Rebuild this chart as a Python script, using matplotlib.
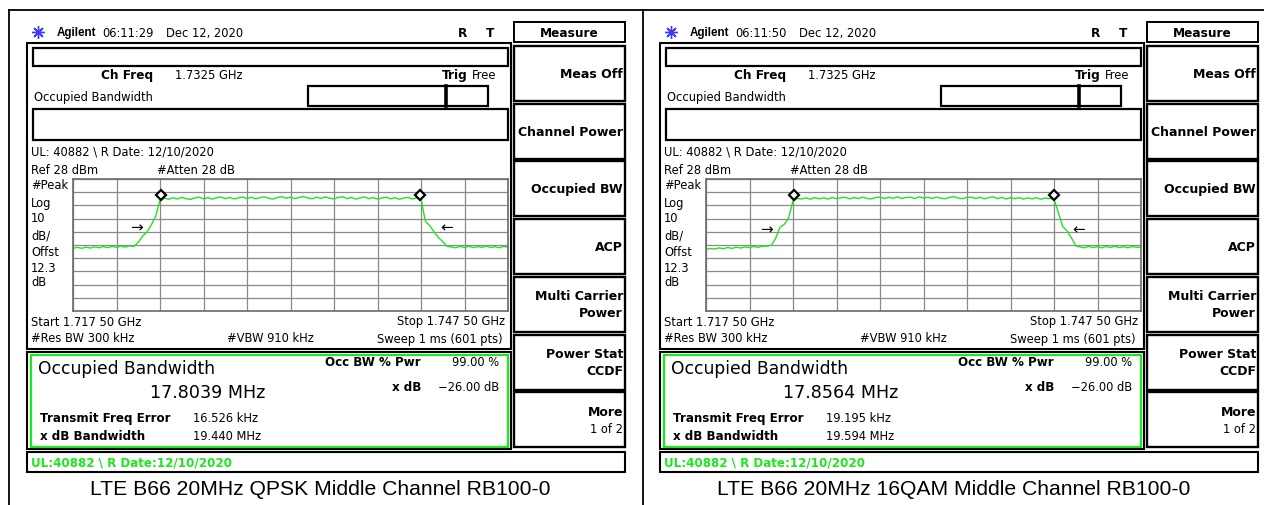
import matplotlib.pyplot as plt
import numpy as np
from matplotlib.patches import Rectangle

W, H = 1264, 506

# analyzer sweep settings
f_start, f_stop = 1717.5, 1747.5
ref_level = 28
db_div = 10

captions = ['LTE B66 20MHz QPSK Middle Channel RB100-0',
            'LTE B66 20MHz 16QAM Middle Channel RB100-0']
clock = ['06:11:29', '06:11:50']
occ_bw = ['17.8039 MHz', '17.8564 MHz']
freq_err = ['16.526 kHz', '19.195 kHz']
xdb_bw = ['19.440 MHz', '19.594 MHz']
softkeys = [['Meas Off'], ['Channel Power'], ['Occupied BW'], ['ACP'],
            ['Multi Carrier', 'Power'], ['Power Stat', 'CCDF'], ['More', '1 of 2']]

# trace levels (dBm), one sample every 0.3 MHz
qpsk_level = [-24.5, -23.8, -24.5, -23.6, -24.3, -23.4, -24.1, -23.2, -24.0, -23.0,
              -23.8, -22.8, -23.6, -22.6, -23.1,
              -20.0, -15.3, -12.2, -6.8, -0.3, 12.0, 13.5,
              12.7, 13.8, 12.9, 14.0, 13.1, 12.5, 13.7, 14.2, 13.0, 13.9,
              12.8, 13.8, 14.3, 13.1, 14.0, 12.9, 13.6, 14.4, 13.2, 14.1,
              13.0, 13.9, 14.5, 13.4, 12.8, 14.0, 14.6, 13.5, 14.2, 13.1,
              14.1, 14.7, 13.6, 13.0, 14.2, 13.3, 14.4, 13.5, 12.9, 14.1,
              14.5, 13.2, 14.0, 12.8, 13.7, 14.4, 13.1, 13.9, 12.8, 13.6,
              14.2, 13.0, 13.8, 12.7, 13.5, 14.0, 12.9, 13.6,
              13.0, -4.0, -7.3, -12.0, -16.3, -19.5, -23.0,
              -23.5, -24.1, -23.0, -23.9, -22.9, -24.0, -23.2, -23.8, -22.8, -23.9,
              -23.3, -24.1, -23.0, -23.8]
qam16_level = [-25.2, -24.6, -25.0, -24.2, -24.8, -23.9, -24.6, -23.6, -24.3, -23.4,
               -24.0, -23.1, -23.8, -22.9, -22.9,
               -22.3, -17.0, -8.6, -6.3, -1.5, 11.5, 13.2,
               12.9, 13.7, 12.7, 13.9, 13.0, 13.8, 12.8, 14.0, 13.1, 13.8,
               14.1, 13.0, 13.9, 13.2, 14.2, 13.3, 12.9, 14.0, 14.3, 13.2,
               14.1, 13.4, 14.4, 13.3, 14.0, 14.2, 13.2, 14.5, 13.5, 14.1,
               13.3, 14.3, 13.4, 13.0, 14.1, 14.6, 13.5, 13.1, 14.0, 14.2,
               13.3, 14.1, 13.0, 13.9, 14.4, 13.2, 14.0, 12.9, 13.8, 13.1,
               13.9, 12.8, 13.7, 13.0, 13.8, 12.7, 13.6, 13.2,
               12.8, 2.5, -8.0, -11.4, -16.5, -22.6,
               -23.5, -24.1, -23.0, -24.0, -23.2, -24.2, -23.1, -23.9, -22.9, -24.0,
               -23.3, -24.1, -23.1, -23.8, -23.4]
traces = [qpsk_level, qam16_level]

# occupied bandwidth markers and x dB arrows
marker_f = [[1723.60, 1741.45], [1723.57, 1741.52]]
marker_level = 16.0
arrow_f = [[1721.9, 1743.3], [1721.65, 1743.2]]
arrow_level = [-8.4, -9.9]

GREEN = '#1ee61e'
FONT = 'DejaVu Sans'

fig = plt.figure(figsize=(W / 100, H / 100), dpi=100)
bg = fig.add_axes([0, 0, 1, 1])
bg.set_xlim(0, W)
bg.set_ylim(H, 0)
bg.axis('off')


def box(x0, y0, x1, y1, lw=1.5, color='black'):
    bg.add_patch(Rectangle((x0, y0), x1 - x0, y1 - y0, fill=False, lw=lw, ec=color))


def txt(x, y, s, size=8.3, bold=False, ha='left', color='black', family=FONT):
    bg.text(x, y, s, fontsize=size, fontweight='bold' if bold else 'normal',
            ha=ha, va='center', color=color, family=family)


# outer frame
bg.plot([9, W], [11, 11], color='black', lw=1.3)
bg.plot([9, 9], [11, H], color='black', lw=1.3)
bg.plot([643, 643], [11, H], color='black', lw=1.3)


def panel(k, dx):
    # header line
    bg.plot(38 + dx, 33, marker=(8, 2, 0), ms=9, color='#3a3aff', mew=1)
    txt(57 + dx, 33, 'Agilent', size=8.4, bold=True, family='Liberation Sans')
    txt(102 + dx, 33, clock[k])
    txt(166 + dx, 33, 'Dec 12, 2020')
    txt(463 + dx, 33, 'R', size=8.7, bold=True, ha='center')
    txt(490 + dx, 33, 'T', size=8.7, bold=True, ha='center')

    # soft keys
    box(514 + dx, 23, 625 + dx, 43, lw=1.4)
    txt(569.5 + dx, 33, 'Measure', size=8.7, bold=True, ha='center')
    for j, lines in enumerate(softkeys):
        top = 47 + j * 57.7
        box(514 + dx, top, 625 + dx, top + 55, lw=1.7)
        yc = top + 27.5
        if len(lines) == 1:
            txt(623 + dx, yc, lines[0], size=9, bold=True, ha='right')
        else:
            txt(623 + dx, yc - 8.5, lines[0], size=9, bold=True, ha='right')
            txt(623 + dx, yc + 8.5, lines[1], size=9 if j < 6 else 8.3,
                bold=j < 6, ha='right')

    # main display
    box(27 + dx, 44, 511 + dx, 350, lw=1.5)
    box(33 + dx, 49, 508 + dx, 66.5, lw=1.6)
    txt(101 + dx, 75, 'Ch Freq', size=8.7, bold=True)
    txt(175 + dx, 75, '1.7325 GHz')
    txt(442 + dx, 75, 'Trig', size=8.7, bold=True)
    txt(472 + dx, 75, 'Free')
    txt(34 + dx, 97, 'Occupied Bandwidth')
    box(308 + dx, 87, 488 + dx, 107, lw=1.6)
    bg.plot([446 + dx, 446 + dx], [87, 107], color='black', lw=2.6)
    box(33 + dx, 110, 508 + dx, 140.5, lw=1.6)
    txt(31 + dx, 152, 'UL: 40882 \\ R Date: 12/10/2020')
    txt(31 + dx, 170, 'Ref 28 dBm')
    txt(157 + dx, 170, '#Atten 28 dB')
    for s, y in zip(['#Peak', 'Log', '10', 'dB/', 'Offst', '12.3', 'dB'],
                    [185, 203, 219, 236, 253, 268, 282]):
        txt(31 + dx, y, s)
    txt(31 + dx, 322, 'Start 1.717 50 GHz')
    txt(505 + dx, 322, 'Stop 1.747 50 GHz', ha='right')
    txt(31 + dx, 339, '#Res BW 300 kHz')
    txt(227 + dx, 339, '#VBW 910 kHz')
    txt(503 + dx, 339, 'Sweep 1 ms (601 pts)', ha='right')

    # graticule with trace
    x0, x1, y0, y1 = 73 + dx, 508 + dx, 180, 312
    ax = fig.add_axes([x0 / W, 1 - y1 / H, (x1 - x0) / W, (y1 - y0) / H])
    ax.set_xlim(f_start, f_stop)
    ax.set_ylim(ref_level - 10 * db_div, ref_level)
    ax.set_xticks(np.linspace(f_start, f_stop, 11))
    ax.set_yticks(np.linspace(ref_level - 10 * db_div, ref_level, 11))
    ax.tick_params(length=0, labelbottom=False, labelleft=False)
    ax.grid(True, color='#8a8a8a', lw=0.9)
    for sp in ax.spines.values():
        sp.set_color('#6a6a6a')
        sp.set_linewidth(1.2)
    ax.set_facecolor('white')
    level = traces[k]
    freq = np.linspace(f_start, f_stop, len(level))
    ax.plot(freq, level, color=GREEN, lw=1)
    ax.plot(marker_f[k], [marker_level] * 2, 'D', ms=5, mfc='white', mec='black',
            mew=1.6, ls='none')
    ax.text(arrow_f[k][0], arrow_level[k], '\u2192', ha='center', va='center', fontsize=11)
    ax.text(arrow_f[k][1], arrow_level[k], '\u2190', ha='center', va='center', fontsize=11)

    # result window
    box(27 + dx, 353, 511 + dx, 450, lw=1.5)
    box(31 + dx, 355.5, 508 + dx, 447.5, lw=1.6, color=GREEN)
    txt(38 + dx, 369, 'Occupied Bandwidth', size=12.3)
    txt(150 + dx, 393, occ_bw[k], size=12.6)
    txt(40 + dx, 419, 'Transmit Freq Error', size=8.6, bold=True)
    txt(193 + dx, 419, freq_err[k])
    txt(40 + dx, 437, 'x dB Bandwidth', size=8.6, bold=True)
    txt(193 + dx, 437, xdb_bw[k])
    txt(421 + dx, 363, 'Occ BW % Pwr', size=8.6, bold=True, ha='right')
    txt(499 + dx, 363, '99.00 %', ha='right')
    txt(421 + dx, 388, 'x dB', size=8.6, bold=True, ha='right')
    txt(499 + dx, 388, '\u221226.00 dB', ha='right')

    # status line
    box(27 + dx, 453, 625 + dx, 473, lw=1.5)
    txt(31 + dx, 463, 'UL:40882 \\ R Date:12/10/2020', size=8.6, bold=True, color=GREEN)

    # caption
    bg.text(320.5 + dx, 495, captions[k], fontsize=15.2, family='Liberation Sans',
            ha='center', va='baseline')


panel(0, 0)
panel(1, 633)

fig.savefig('out.png', dpi=100)
